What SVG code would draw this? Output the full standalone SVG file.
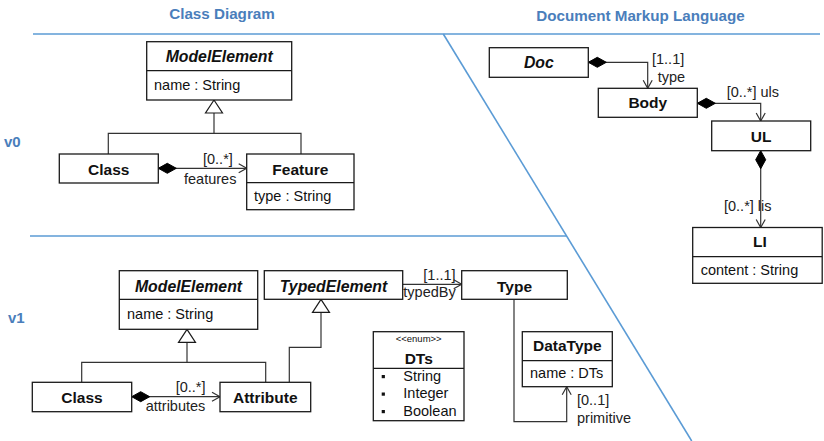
<svg xmlns="http://www.w3.org/2000/svg" width="824" height="441" viewBox="0 0 824 441">
  <style>
    text { font-family: "Liberation Sans", Arial, sans-serif; fill: #111; }
    .title { font-size: 15.2px; font-weight: bold; fill: #4a7ebb; text-anchor: middle; }
    .ver { font-size: 15px; font-weight: bold; fill: #4a7ebb; }
    .cls { font-size: 15.5px; font-weight: bold; text-anchor: middle; }
    .abs { font-size: 15.8px; font-weight: bold; font-style: italic; text-anchor: middle; }
    .attr { font-size: 14.5px; }
    .lbl { font-size: 14.5px; fill: #222; }
    .stereo { font-size: 9.5px; text-anchor: middle; }
    .box { fill: #fff; stroke: #1a1a1a; stroke-width: 1.3; }
    .div { stroke: #1a1a1a; stroke-width: 1.3; }
    .sep { stroke: #5b9bd5; stroke-width: 1.6; fill: none; }
    .edge { fill: none; stroke: #333; stroke-width: 1.2; }
    .comp { marker-start: url(#diamond); marker-end: url(#arrow); }
    .nav { marker-end: url(#arrow); }
    .gen { marker-end: url(#triangle); }
  </style>
  <defs>
    <marker id="diamond" markerUnits="userSpaceOnUse" viewBox="-1 -6 21 12" markerWidth="21" markerHeight="12" refX="0" refY="0" orient="auto">
      <path d="M0,0 L9,-5 L18,0 L9,5 Z" fill="#000" stroke="#000" stroke-width="1"/>
    </marker>
    <marker id="arrow" markerUnits="userSpaceOnUse" viewBox="-10 -6 12 12" markerWidth="12" markerHeight="12" refX="0" refY="0" orient="auto">
      <path d="M-8,-4.5 L0,0 L-8,4.5" fill="none" stroke="#333" stroke-width="1.2"/>
    </marker>
    <marker id="triangle" markerUnits="userSpaceOnUse" viewBox="-15 -10 17 20" markerWidth="17" markerHeight="20" refX="0" refY="0" orient="auto">
      <path d="M0,0 L-13,-8.5 L-13,8.5 Z" fill="#fff" stroke="#1a1a1a" stroke-width="1.2"/>
    </marker>
  </defs>

  <!-- section headings and separators -->
  <g id="frame">
    <text class="title" x="222" y="19">Class Diagram</text>
    <text class="title" x="640.5" y="21">Document Markup Language</text>
    <text class="ver" x="4" y="147">v0</text>
    <text class="ver" x="8" y="323">v1</text>
    <line class="sep" x1="33" y1="34" x2="820" y2="34"/>
    <line class="sep" x1="30" y1="236" x2="567" y2="236"/>
    <line class="sep" x1="443.3" y1="34" x2="691.7" y2="441"/>
  </g>

  <!-- connectors -->
  <g id="connectors">
    <!-- v0 -->
    <path class="edge" d="M108.3,154 V133.3 H301 V154"/>
    <path class="edge gen" d="M214,133.3 V100"/>
    <path class="edge comp" d="M158.3,168.3 H246.7"/>
    <!-- document markup -->
    <path class="edge comp" d="M588.3,62.3 H647.7 V88.3"/>
    <path class="edge comp" d="M697.3,103.3 H760.7 V121"/>
    <path class="edge comp" d="M760.7,150.7 V227.5"/>
    <!-- v1 -->
    <path class="edge" d="M81.7,382.3 V362.3 H265.7 V382.3"/>
    <path class="edge gen" d="M187,362.3 V329.3"/>
    <path class="edge gen" d="M289.3,382.3 V347.3 H321 V299.3"/>
    <path class="edge comp" d="M131.7,396.7 H220"/>
    <path class="edge nav" d="M402.7,284.3 H461.7"/>
    <path class="edge nav" d="M514,299.3 V421.7 H566.7 V386.7"/>
  </g>

  <!-- connector labels -->
  <g id="labels">
    <text class="lbl" x="203" y="164">[0..*]</text>
    <text class="lbl" x="184" y="184">features</text>
    <text class="lbl" x="652" y="63.5">[1..1]</text>
    <text class="lbl" x="657.7" y="82">type</text>
    <text class="lbl" x="726.7" y="96.5">[0..*] uls</text>
    <text class="lbl" x="724" y="211">[0..*] lis</text>
    <text class="lbl" x="175.7" y="392">[0..*]</text>
    <text class="lbl" x="145.7" y="410.5">attributes</text>
    <text class="lbl" x="423.3" y="280">[1..1]</text>
    <text class="lbl" x="403.3" y="297">typedBy</text>
    <text class="lbl" x="577" y="405">[0..1]</text>
    <text class="lbl" x="577" y="423">primitive</text>
  </g>

  <!-- v0 classes -->
  <g id="v0-ModelElement">
    <rect class="box" x="146.7" y="41.7" width="145" height="58.3"/>
    <line class="div" x1="146.7" y1="70.7" x2="291.7" y2="70.7"/>
    <text class="abs" x="219.2" y="62">ModelElement</text>
    <text class="attr" x="154" y="89.5">name : String</text>
  </g>
  <g id="v0-Class">
    <rect class="box" x="59.3" y="154" width="99" height="29"/>
    <text class="cls" x="108.8" y="174.5">Class</text>
  </g>
  <g id="v0-Feature">
    <rect class="box" x="246.7" y="154" width="107.3" height="55.7"/>
    <line class="div" x1="246.7" y1="182.7" x2="354" y2="182.7"/>
    <text class="cls" x="300.3" y="174.5">Feature</text>
    <text class="attr" x="254" y="201">type : String</text>
  </g>

  <!-- document markup classes -->
  <g id="Doc">
    <rect class="box" x="489.3" y="47.7" width="99" height="29.6"/>
    <text class="abs" x="538.8" y="68">Doc</text>
  </g>
  <g id="Body">
    <rect class="box" x="598.3" y="88.3" width="99" height="29"/>
    <text class="cls" x="647.8" y="108">Body</text>
  </g>
  <g id="UL">
    <rect class="box" x="711.7" y="121" width="99" height="29.7"/>
    <text class="cls" x="761.2" y="141.5">UL</text>
  </g>
  <g id="LI">
    <rect class="box" x="692.7" y="227.5" width="129.5" height="55.8"/>
    <line class="div" x1="692.7" y1="256.7" x2="822.2" y2="256.7"/>
    <text class="cls" x="760" y="247.3">LI</text>
    <text class="attr" x="700.7" y="275">content : String</text>
  </g>

  <!-- v1 classes -->
  <g id="v1-ModelElement">
    <rect class="box" x="119.3" y="270.7" width="138.4" height="58.6"/>
    <line class="div" x1="119.3" y1="299.3" x2="257.7" y2="299.3"/>
    <text class="abs" x="188.5" y="291.5">ModelElement</text>
    <text class="attr" x="127" y="319">name : String</text>
  </g>
  <g id="v1-TypedElement">
    <rect class="box" x="264.3" y="270.7" width="138.4" height="28.6"/>
    <text class="abs" x="333.5" y="291.5">TypedElement</text>
  </g>
  <g id="v1-Type">
    <rect class="box" x="461.7" y="270.7" width="105.6" height="28.6"/>
    <text class="cls" x="514.5" y="291.5">Type</text>
  </g>
  <g id="v1-Class">
    <rect class="box" x="32.3" y="382.3" width="99.4" height="29.4"/>
    <text class="cls" x="82" y="402.5">Class</text>
  </g>
  <g id="v1-Attribute">
    <rect class="box" x="220" y="382.3" width="90.7" height="29.4"/>
    <text class="cls" x="265.3" y="402.5">Attribute</text>
  </g>
  <g id="v1-DTs">
    <rect class="box" x="373.3" y="331.7" width="90.7" height="89"/>
    <line class="div" x1="373.3" y1="368.3" x2="464" y2="368.3"/>
    <text class="stereo" x="418.7" y="342">&lt;&lt;enum&gt;&gt;</text>
    <text class="cls" x="418.7" y="363.5">DTs</text>
    <rect x="381.7" y="375" width="3.2" height="3.2" fill="#111"/>
    <rect x="381.7" y="392.5" width="3.2" height="3.2" fill="#111"/>
    <rect x="381.7" y="410" width="3.2" height="3.2" fill="#111"/>
    <text class="attr" x="403.3" y="380.5">String</text>
    <text class="attr" x="403.3" y="398">Integer</text>
    <text class="attr" x="403.3" y="416">Boolean</text>
  </g>
  <g id="v1-DataType">
    <rect class="box" x="522.3" y="331.7" width="90" height="55"/>
    <line class="div" x1="522.3" y1="360.7" x2="612.3" y2="360.7"/>
    <text class="cls" x="567.3" y="350.5">DataType</text>
    <text class="attr" x="530" y="377.5">name : DTs</text>
  </g>
</svg>
